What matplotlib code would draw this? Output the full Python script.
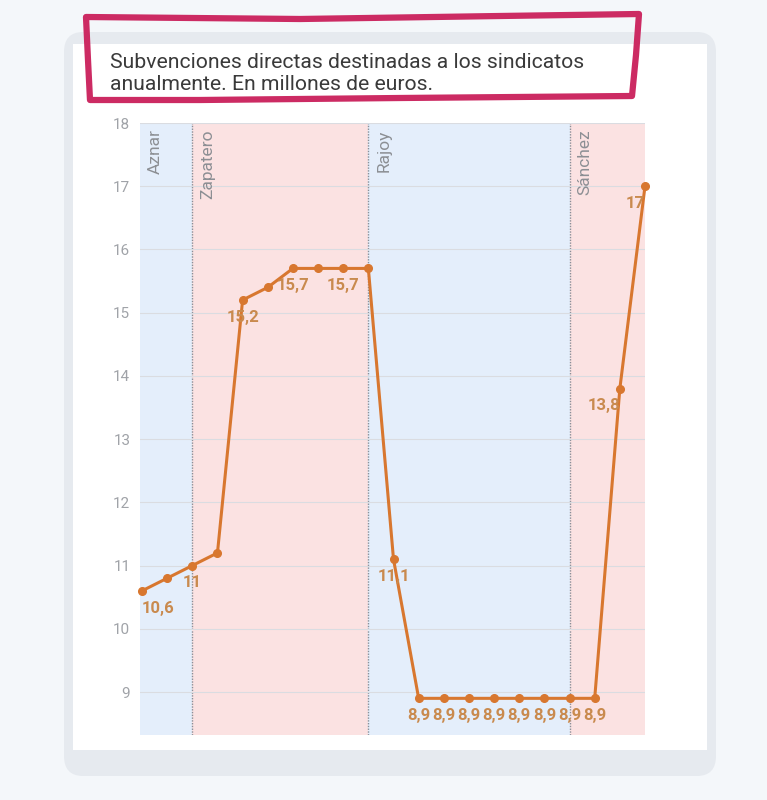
import numpy as np
import matplotlib
matplotlib.use("Agg")
import matplotlib.pyplot as plt
from matplotlib.patches import FancyBboxPatch, Rectangle, Polygon

# data
years = list(range(2002, 2023))
values = [10.6, 10.8, 11.0, 11.2, 15.2, 15.4, 15.7, 15.7, 15.7, 15.7, 11.1,
          8.9, 8.9, 8.9, 8.9, 8.9, 8.9, 8.9, 8.9, 13.8, 17.0]
labels = ["10,6", "", "11", "", "15,2", "", "15,7", "", "15,7", "", "11,1",
          "8,9", "8,9", "8,9", "8,9", "8,9", "8,9", "8,9", "8,9", "13,8", "17"]
presidents = ["Aznar", "Zapatero", "Rajoy", "Sánchez"]
terms = [2001.92, 2004, 2011, 2019, 2022.0]
y_ticks = [9, 10, 11, 12, 13, 14, 15, 16, 17, 18]
title = "Subvenciones directas destinadas a los sindicatos\nanualmente. En millones de euros."

W, H = 767, 800
def fx(x):
    return x / W
def fy(y):
    return 1 - y / H

fig = plt.figure(figsize=(7.67, 8.0), dpi=100, facecolor="#f4f7fa")

# card behind the chart
fig.add_artist(FancyBboxPatch((fx(64), fy(776)), fx(652), (776 - 32) / H,
                              boxstyle="round,pad=0,rounding_size=0.025",
                              transform=fig.transFigure, fc="#e6eaef", ec="none",
                              zorder=-2))
fig.add_artist(Rectangle((fx(73), fy(750)), fx(634), (750 - 44) / H,
                         transform=fig.transFigure, fc="white", ec="none",
                         zorder=-1))

fig.text(fx(110), fy(73), title, fontsize=15.2, color="#3a3a3a",
         family=["Roboto", "DejaVu Sans"], va="center", ha="left", linespacing=1.2)

ax = fig.add_axes([fx(140), fy(735), fx(645 - 140), (735 - 123) / H])
ax.set_facecolor("white")

band_colors = ["#e4eefb", "#fbe2e2", "#e4eefb", "#fbe2e2"]
for i, name in enumerate(presidents):
    ax.axvspan(terms[i], terms[i + 1], color=band_colors[i], lw=0, zorder=0)
    if i > 0:
        ax.axvline(terms[i], color="#8a8f98", lw=1, ls=(0, (1, 1)), zorder=1)
    ax.text(terms[i] + 0.62, 17.9, name, rotation=90, ha="center", va="top",
            color="#8c8f94", fontsize=12.5, family=["Roboto", "DejaVu Sans"])

for t in y_ticks:
    ax.axhline(t, color="#dadce1", lw=0.8, zorder=1)

ax.plot(years, values, color="#d8772f", lw=2.2, marker="o", ms=5.5,
        zorder=3, clip_on=False)

for x, v, lab in zip(years, values, labels):
    if not lab:
        continue
    ha, dx = "center", 0
    if x == years[0]:
        ha, dx = "left", 0.0
    elif x >= 2021:
        ha, dx = "right", 0.05
    ax.annotate(lab, (x, v), xytext=(dx, -12.5), textcoords="offset points",
                ha=ha, va="center", fontsize=12, fontweight="bold",
                color="#c98a4e", family=["Roboto", "DejaVu Sans"],
                zorder=4)

ax.set_xlim(2001.92, 2022.0)
ax.set_ylim(8.32, 18.0)
ax.set_yticks(y_ticks)
ax.set_yticklabels([str(t) for t in y_ticks], color="#a0a3a8", fontsize=11,
                   family=["Roboto", "DejaVu Sans"])
ax.tick_params(axis="y", length=0, pad=7)
ax.set_xticks([])
for s in ax.spines.values():
    s.set_visible(False)

# hand drawn highlight box, on top of everything
pts = [(86, 17), (300, 19), (500, 16), (639, 14), (636, 55), (632, 96),
       (400, 98), (200, 100), (90, 100), (88, 60)]
fig.add_artist(Polygon([(fx(x), fy(y)) for x, y in pts], closed=True,
                       transform=fig.transFigure, fill=False, ec="#cc2b63",
                       lw=4.5, joinstyle="round", zorder=5))

fig.savefig("out.png", dpi=100, facecolor=fig.get_facecolor())
